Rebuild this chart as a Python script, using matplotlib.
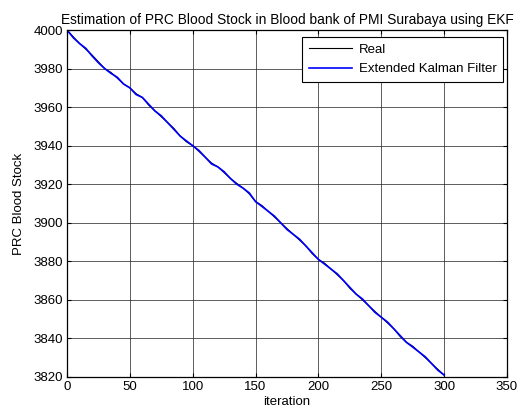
import matplotlib
matplotlib.use('Agg')
import matplotlib.pyplot as plt

plt.rcParams['font.family'] = ['Liberation Sans', 'DejaVu Sans']

# ---------------------------------------------------------------------------
# Data (every 5 iterations)
# ---------------------------------------------------------------------------
iteration = list(range(0, 305, 5))

real_stock = [
    4000, 3996.5, 3993, 3990, 3987, 3983.5, 3980, 3978, 3975, 3972,
    3970, 3967, 3965, 3961, 3958, 3955, 3952, 3949, 3945, 3942,
    3940, 3937, 3934, 3931, 3929, 3926, 3923, 3920.5, 3918, 3915,
    3911, 3909, 3906, 3903, 3900, 3897, 3894, 3891, 3888, 3884,
    3881, 3879, 3876, 3873, 3870, 3866, 3863, 3860, 3857, 3854,
    3851, 3848, 3845, 3841, 3838, 3836, 3833, 3830, 3827, 3824,
    3821,
]

ekf_stock = [
    4000, 3996, 3993, 3990.5, 3986.5, 3983, 3980, 3977.5, 3975.5, 3972,
    3970, 3966.5, 3965, 3961.5, 3958, 3955.5, 3952, 3948.5, 3945, 3942.5,
    3940, 3937.5, 3934, 3930.5, 3929, 3926.5, 3923, 3920, 3918, 3915.5,
    3911, 3908.5, 3906, 3903.5, 3900, 3896.5, 3894, 3891.5, 3888, 3884.5,
    3881, 3878.5, 3876, 3873.5, 3870, 3866.5, 3863, 3860.5, 3857, 3853.5,
    3851, 3848.5, 3845, 3841.5, 3838, 3835.5, 3833, 3830.5, 3827, 3823.5,
    3821,
]

# ---------------------------------------------------------------------------
# Figure
# ---------------------------------------------------------------------------
fig = plt.figure(figsize=(5.17, 4.16), dpi=100)
ax = fig.add_axes([0.1296, 0.0938, 0.851, 0.834])

ax.plot(iteration, real_stock, color='black', lw=0.8, label='Real')
ax.plot(iteration, ekf_stock, color='#0000ff', lw=1.2, label='Extended Kalman Filter')

ax.set_xlim(0, 350)
ax.set_ylim(3820, 4000)
ax.set_xticks(range(0, 351, 50))
ax.set_yticks(range(3820, 4001, 20))

ax.grid(True, color='#222222', lw=0.6, alpha=0.85)
ax.tick_params(direction='in', top=True, right=True, labelsize=9.5, length=3,
               width=0.8, pad=3)
for s in ax.spines.values():
    s.set_linewidth(0.9)

ax.set_title('Estimation of PRC Blood Stock in Blood bank of PMI Surabaya using EKF',
             fontsize=9.9, pad=4)
ax.set_xlabel('iteration', fontsize=9.5, labelpad=2)
ax.set_ylabel('PRC Blood Stock', fontsize=9.5, labelpad=6)

leg = ax.legend(loc='upper right', fontsize=9.5, fancybox=False, framealpha=1,
                edgecolor='black', handlelength=3.3, borderpad=0.5,
                labelspacing=0.55, handletextpad=0.5, borderaxespad=0,
                bbox_to_anchor=(0.991, 0.980))
leg.get_frame().set_linewidth(0.8)

fig.savefig('out.png', dpi=100)
